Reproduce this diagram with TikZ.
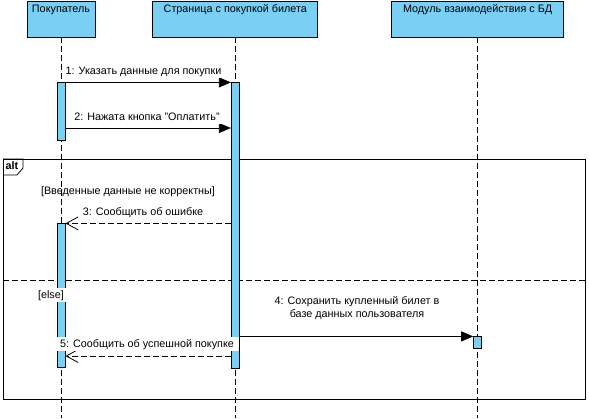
\documentclass[tikz,border=0pt]{standalone}
\usepackage{fontspec}
\setmainfont{Liberation Sans}
\usepackage{xcolor}
\definecolor{LifeBlue}{HTML}{7ACFF5}
\usepackage{tikz}
\usetikzlibrary{arrows.meta, positioning, calc}
\tikzstyle{lifebox} = [rectangle, draw=black, fill=LifeBlue, minimum height=36pt, text height=8pt, text depth=21pt, inner sep=3pt, line width=0.8pt, align=center]
\tikzstyle{activ} = [rectangle, draw=black, fill=LifeBlue, minimum width=8pt, inner sep=0pt, line width=0.8pt]
\tikzstyle{lifeline} = [dash pattern=on 6pt off 3pt, line width=0.8pt]
\tikzstyle{msg} = [-{Triangle[length=12pt,width=10pt]}, line width=0.8pt]
\tikzstyle{reply} = [-{Straight Barb[length=12pt,width=13pt]}, dash pattern=on 6pt off 3pt, line width=0.8pt]
\tikzstyle{msglabel} = [fill=white, text height=8pt, text depth=2pt, inner sep=2pt, align=center]

\begin{document}
\begin{tikzpicture}[x=1pt, y=1pt, font=\fontsize{10.8}{13}\selectfont]
        \useasboundingbox (0,0) rectangle (589,-418);

        % Fragment
        \node [draw, line width=0.8pt, minimum width=582pt, minimum height=240pt, inner sep=0pt, anchor=north west] (altframe) at (3,-159) {};
        \draw [line width=0.8pt] (altframe.north west) -- ++(20,0) -- ++(0,-9) -- ++(-6,-7) -- ++(-14,0);
        \node [font=\fontsize{10.8}{13}\bfseries] (alttag) at (12,-166) {alt};
        \coordinate (sepL) at (3,-280);
        \draw [dash pattern=on 6pt off 3pt, line width=0.8pt] (sepL) -- (altframe.east |- sepL);

        % Lifelines
        \node [lifebox, minimum width=68pt] (buyer) at (61,-19) {Покупатель};
        \node [lifebox, minimum width=165pt, right=57pt of buyer] (page) {Страница с покупкой билета};
        \node [lifebox, minimum width=172pt, right=73pt of page] (dbmod) {Модуль взаимодействия с БД};

        \coordinate (buyerEnd) at (buyer.south |- 0,-418);
        \coordinate (pageEnd) at (page.south |- 0,-418);
        \coordinate (dbmodEnd) at (dbmod.south |- 0,-418);
        \draw [lifeline] (buyer) -- (buyerEnd);
        \draw [lifeline] (page) -- (pageEnd);
        \draw [lifeline] (dbmod) -- (dbmodEnd);

        % Activations
        \node [activ, minimum height=58pt, below=45pt of buyer] (act1a) {};
        \node [activ, minimum height=286pt, below=45pt of page] (act2) {};
        \node [activ, minimum height=144pt, below=186pt of buyer] (act1b) {};
        \node [activ, minimum height=12pt, below=299pt of dbmod] (act3) {};

        % Messages
        \coordinate (m2) at (0,-128);
        \coordinate (m5) at (0,-356);
        \draw [msg] (act1a.north east) -- (act2.north west);
        \draw [msg] (act1a.east |- m2) -- (act2.west |- m2);
        \draw [reply] (act2.west |- act1b.north) -- (act1b.north east);
        \draw [msg] (act2.east |- act3.north) -- (act3.north west);
        \draw [reply] (act2.west |- m5) -- (act1b.east |- m5);

        % Labels
        \node [msglabel] (lab1) at (143.5,-71) {1: Указать данные для покупки};
        \node [msglabel, inner xsep=8pt] (lab2) at (147,-117) {2: Нажата кнопка "Оплатить"};
        \node (guard1) at (128,-192) {[Введенные данные не корректны]};
        \node [msglabel] (lab3) at (143,-212) {3: Сообщить об ошибке};
        \node [msglabel] (guard2) at (51,-295) {[else]};
        \node [msglabel] (lab4) at (357,-314) {4: Сохранить купленный билет в\\базе данных пользователя};
        \node [msglabel, inner xsep=5pt] (lab5) at (147,-344) {5: Сообщить об успешной покупке};
    \end{tikzpicture}
\end{document}
